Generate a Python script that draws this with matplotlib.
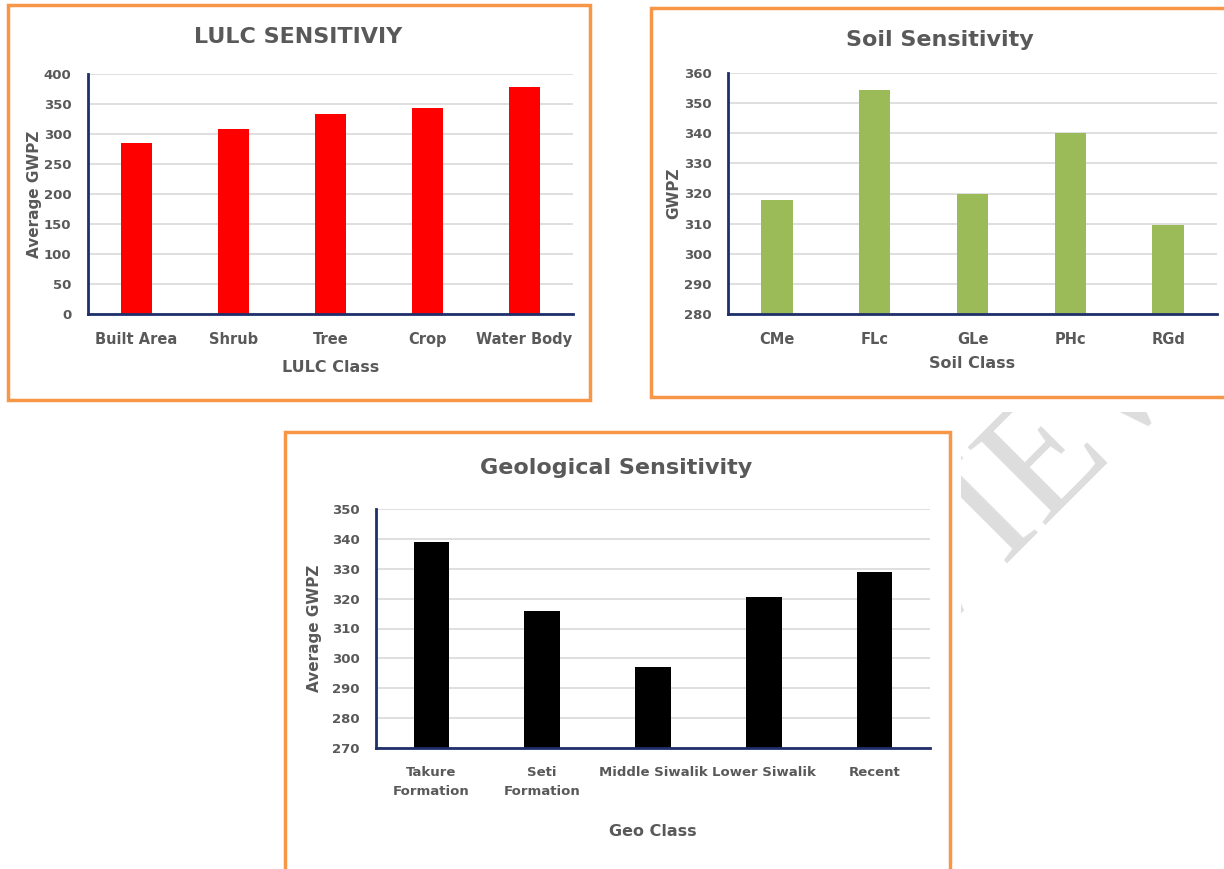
import numpy as np
import matplotlib.pyplot as plt
from matplotlib.patches import Rectangle

# data
lulc_cats = ['Built Area', 'Shrub', 'Tree', 'Crop', 'Water Body']
lulc_vals = [285, 308, 333, 344, 378]

soil_cats = ['CMe', 'FLc', 'GLe', 'PHc', 'RGd']
soil_vals = [318, 354.3, 320, 340, 309.5]

geo_cats = ['Takure\nFormation', 'Seti\nFormation', 'Middle Siwalik', 'Lower Siwalik', 'Recent']
geo_vals = [339, 316, 297, 320.7, 329]

W, H = 1224, 869
txt = '#595959'
navy = '#1F2F6B'
orange = '#F79646'
plt.rcParams['font.family'] = ['DejaVu Sans']

fig = plt.figure(figsize=(W / 100, H / 100), dpi=100)
fig.patch.set_facecolor('white')


def px_box(x0, y0, x1, y1):
    # pixel box (top-left origin) -> figure fraction [l, b, w, h]
    return [x0 / W, 1 - y1 / H, (x1 - x0) / W, (y1 - y0) / H]


# watermark behind the panels
wm = fig.add_axes(px_box(961, 412, W, H), zorder=-2)
wm.axis('off')
wm.text(-0.10, 0.645, 'PREVIEW', transform=wm.transAxes, rotation=45,
        fontsize=120, family='Liberation Serif', color='#DDDDDD',
        ha='center', va='center', clip_on=True)

# orange frames
for (x0, y0, x1, y1) in [(8, 5, 590, 400), (651, 8, 1226, 397), (285, 432, 950, 872)]:
    fig.patches.append(Rectangle((x0 / W, 1 - y1 / H), (x1 - x0) / W, (y1 - y0) / H,
                                 transform=fig.transFigure, facecolor='white',
                                 edgecolor=orange, linewidth=2.5, zorder=-1))


def panel(box, cats, vals, color, width, ylim, step, title, title_xy, xlabel, ylabel,
          xlab_y, ylab_x, xfs=10.5):
    ax = fig.add_axes(px_box(*box), zorder=1)
    ax.set_facecolor('none')
    x = np.arange(len(cats))
    ax.bar(x, vals, width=width, color=color, zorder=2)
    ax.set_xlim(-0.5, len(cats) - 0.5)
    ax.set_ylim(*ylim)
    ax.set_yticks(np.arange(ylim[0], ylim[1] + 1, step))
    ax.yaxis.grid(True, color='#D9D9D9', linewidth=1.2, zorder=0)
    ax.set_axisbelow(True)
    for s in ['top', 'right']:
        ax.spines[s].set_visible(False)
    for s in ['left', 'bottom']:
        ax.spines[s].set_color(navy)
        ax.spines[s].set_linewidth(2)
    ax.set_xticks(x)
    ax.set_xticklabels(cats, fontsize=xfs, fontweight='bold', color=txt, linespacing=1.6)
    ax.tick_params(axis='both', length=0, colors=txt)
    ax.tick_params(axis='x', pad=13)
    ax.tick_params(axis='y', pad=12)
    for lab in ax.get_yticklabels():
        lab.set_fontweight('bold')
        lab.set_fontsize(9.5)
    fig.text(title_xy[0] / W, 1 - title_xy[1] / H, title, ha='center', va='center',
             fontsize=16, fontweight='bold', color=txt)
    fig.text((box[0] + box[2]) / 2 / W, 1 - xlab_y / H, xlabel, ha='center', va='center',
             fontsize=11.5, fontweight='bold', color=txt)
    fig.text(ylab_x / W, 1 - (box[1] + box[3]) / 2 / H, ylabel, ha='center', va='center',
             rotation=90, fontsize=11, fontweight='bold', color=txt)
    return ax


panel((88, 74, 573, 314), lulc_cats, lulc_vals, '#FF0000', 0.31, (0, 400), 50,
      'LULC SENSITIVIY', (298, 37), 'LULC Class', 'Average GWPZ', 368, 34)
panel((728, 73, 1217, 314), soil_cats, soil_vals, '#9BBB59', 0.32, (280, 360), 10,
      'Soil Sensitivity', (940, 40), 'Soil Class', 'GWPZ', 364, 674)
panel((376, 509, 930, 748), geo_cats, geo_vals, '#000000', 0.32, (270, 350), 10,
      'Geological Sensitivity', (616, 468), 'Geo Class', 'Average GWPZ', 832, 314,
      xfs=9.5)

plt.savefig('out.png', dpi=100, facecolor='white')
